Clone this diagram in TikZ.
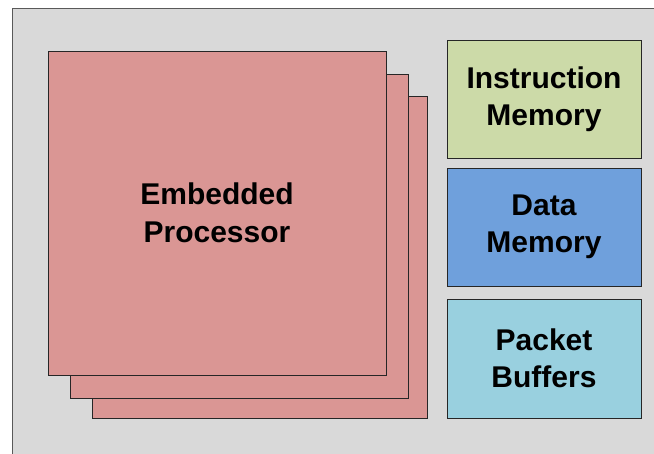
\documentclass[tikz,border=0pt]{standalone}
\usepackage{fontspec}
\setmainfont{Liberation Sans}
\definecolor{boardgray}{HTML}{D9D9D9}
\definecolor{procred}{HTML}{DA9694}
\definecolor{imemgreen}{HTML}{CCDAA8}
\definecolor{dmemblue}{HTML}{6FA0DC}
\definecolor{pbufcyan}{HTML}{99D0DF}
\begin{document}
\begin{tikzpicture}[x=1pt,y=-1pt,
  blk/.style={draw=black!85,line width=0.8pt,inner sep=0pt,align=center,
    font=\fontsize{30}{37.5}\selectfont\bfseries},
  membox/.style={blk,minimum width=194pt,minimum height=118pt}]
\useasboundingbox (0,0) rectangle (654,454);
%Board
\fill[white] (0,0) rectangle (654,454);
\draw[fill=boardgray,draw=black!65,line width=0.8pt] (12,8) rectangle (672,472);

%Processor stack
\node[blk,fill=procred,minimum width=335pt,minimum height=322pt] (proc3) at (259.5,257) {};
\node[blk,fill=procred,minimum width=338pt,minimum height=324pt] (proc2) at (239,236) {};
\node[blk,fill=procred,minimum width=338pt,minimum height=324pt] (proc1) at (217,213) {Embedded\\Processor};

%Memories
\node[membox,fill=imemgreen] (imem) at (544,99) {Instruction\\Memory};
\node[membox,fill=dmemblue] (dmem) at (544,227) {Data\\Memory};
\node[membox,fill=pbufcyan,minimum height=119pt] (pbuf) at (544,358.5) {Packet\\Buffers};
\end{tikzpicture}
\end{document}
